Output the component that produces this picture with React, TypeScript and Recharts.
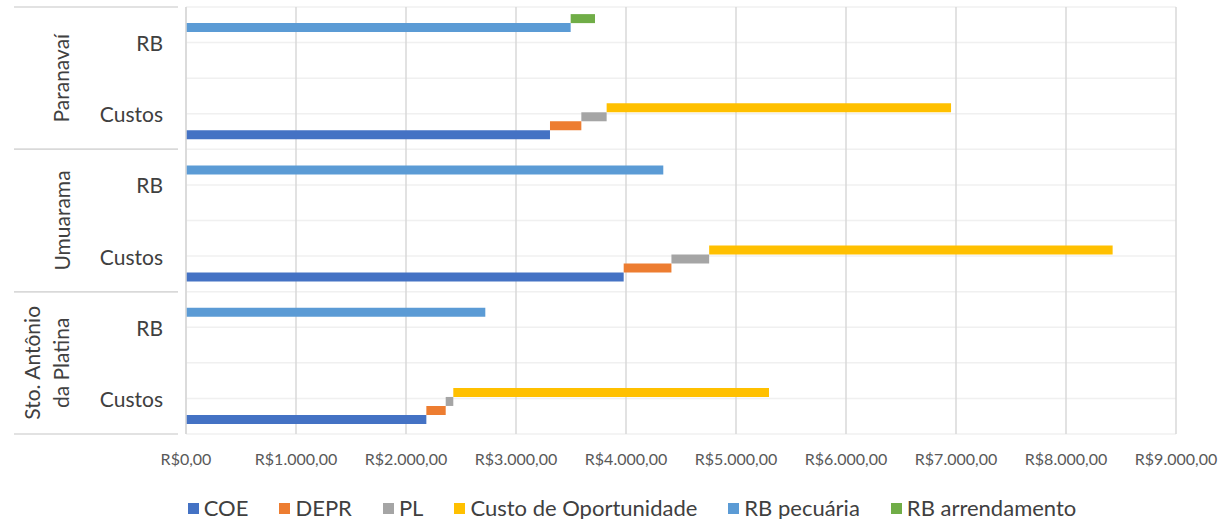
import React from 'react';
import { BarChart, Bar, XAxis, YAxis, CartesianGrid } from 'recharts';

// values per region (R$/ha)
const regioes = ['Paranavaí', 'Umuarama', 'Sto. Antônio da Platina'];
const linhas = ['RB', 'Custos'];
const coe = [3309, 3979, 2185];
const depr = [285, 434, 176];
const pl = [230, 343, 69];
const custoOport = [3131, 3668, 2870];
const rbPecuaria = [3497, 4339, 2721];
const rbArrendamento = [221, 0, 0];
const xTicks = [0, 1000, 2000, 3000, 4000, 5000, 6000, 7000, 8000, 9000];

const series = [
  { key: 'coe', name: 'COE', color: '#4472C4' },
  { key: 'depr', name: 'DEPR', color: '#ED7D31' },
  { key: 'pl', name: 'PL', color: '#A5A5A5' },
  { key: 'co', name: 'Custo de Oportunidade', color: '#FFC000' },
  { key: 'pec', name: 'RB pecuária', color: '#5B9BD5' },
  { key: 'arr', name: 'RB arrendamento', color: '#70AD47' },
];

const data = regioes.flatMap((r, i) => {
  const a = coe[i];
  const b = a + depr[i];
  const c = b + pl[i];
  const d = c + custoOport[i];
  const p = rbPecuaria[i];
  return [
    {
      key: `${r}|${linhas[0]}`,
      pec: [0, p],
      arr: rbArrendamento[i] > 0 ? [p, p + rbArrendamento[i]] : null,
    },
    {
      key: `${r}|${linhas[1]}`,
      coe: [0, a],
      depr: [a, b],
      pl: [b, c],
      co: [c, d],
    },
  ];
});

const W = 1226;
const H = 519;
const TOP = 7;
const PLOT_H = 427;
const BAND = PLOT_H / data.length;
const FONT = 'Lato, "Open Sans", sans-serif';

const brl = (v: number) => {
  const int = Math.floor(v).toString().replace(/\B(?=(\d{3})+(?!\d))/g, '.');
  return `R$${int},00`;
};

const CategoryTick = (props: any) => {
  const { x, y, payload } = props;
  const [regiao, linha] = String(payload.value).split('|');
  const first = linha === linhas[0];
  const cy = y + BAND / 2;
  const words = regiao === 'Sto. Antônio da Platina' ? ['Sto. Antônio', 'da Platina'] : [regiao];
  return (
    <g>
      <text x={163} y={y} textAnchor="end" dominantBaseline="central" fontSize={21} fill="#404040" fontFamily={FONT}>
        {linha}
      </text>
      {first && (
        <>
          <line x1={14} x2={x} y1={y - BAND / 2} y2={y - BAND / 2} stroke="#d9d9d9" strokeWidth={1.5} />
          {words.map((w, k) => {
            const tx = words.length === 1 ? 61 : 32 + k * 29;
            return (
              <text
                key={w}
                x={tx}
                y={cy}
                transform={`rotate(-90, ${tx}, ${cy})`}
                textAnchor="middle"
                dominantBaseline="central"
                fontSize={21}
                fill="#404040"
                fontFamily={FONT}
              >
                {w}
              </text>
            );
          })}
        </>
      )}
      {!first && <line x1={14} x2={x} y1={y + BAND / 2} y2={y + BAND / 2} stroke="#d9d9d9" strokeWidth={1.5} />}
    </g>
  );
};

const ValueTick = (props: any) => (
  <text x={props.x} y={458} textAnchor="middle" dominantBaseline="central" fontSize={16} fill="#595959" fontFamily={FONT}>
    {brl(props.payload.value)}
  </text>
);

export default function App() {
  return (
    <div style={{ position: 'absolute', left: 0, top: 0, width: W, height: H, background: '#fff' }}>
      <BarChart
        width={W}
        height={H}
        data={data}
        layout="vertical"
        margin={{ top: TOP, right: 50, left: 0, bottom: 0 }}
        barCategoryGap="10%"
        barGap={0}
      >
        <CartesianGrid
          vertical={false}
          stroke="#f0f0f0"
          strokeWidth={1.5}
          horizontalCoordinatesGenerator={({ offset }: any) =>
            Array.from({ length: data.length * 2 + 1 }, (_, i) => offset.top + (i * offset.height) / (data.length * 2))
          }
        />
        <CartesianGrid horizontal={false} stroke="#d9d9d9" strokeWidth={1.5} />
        <XAxis
          type="number"
          domain={[0, 9000]}
          ticks={xTicks}
          tick={<ValueTick />}
          tickLine={false}
          axisLine={false}
          height={H - TOP - PLOT_H}
          interval={0}
        />
        <YAxis
          type="category"
          dataKey="key"
          width={186}
          tick={<CategoryTick />}
          tickLine={false}
          axisLine={{ stroke: '#d9d9d9', strokeWidth: 1.5 }}
          interval={0}
        />
        {[...series].reverse().map((s) => (
          <Bar key={s.key} dataKey={s.key} name={s.name} fill={s.color} isAnimationActive={false} />
        ))}
      </BarChart>
      <div
        style={{
          position: 'absolute',
          top: 496,
          left: 0,
          width: W,
          paddingLeft: 38,
          boxSizing: 'border-box',
          display: 'flex',
          justifyContent: 'center',
          gap: 31,
          fontFamily: FONT,
          fontSize: 22,
          color: '#404040',
          lineHeight: '24px',
        }}
      >
        {series.map((s) => (
          <div key={s.key} style={{ display: 'flex', alignItems: 'center', gap: 5 }}>
            <span style={{ width: 11, height: 11, background: s.color, display: 'inline-block' }} />
            <span>{s.name}</span>
          </div>
        ))}
      </div>
    </div>
  );
}
